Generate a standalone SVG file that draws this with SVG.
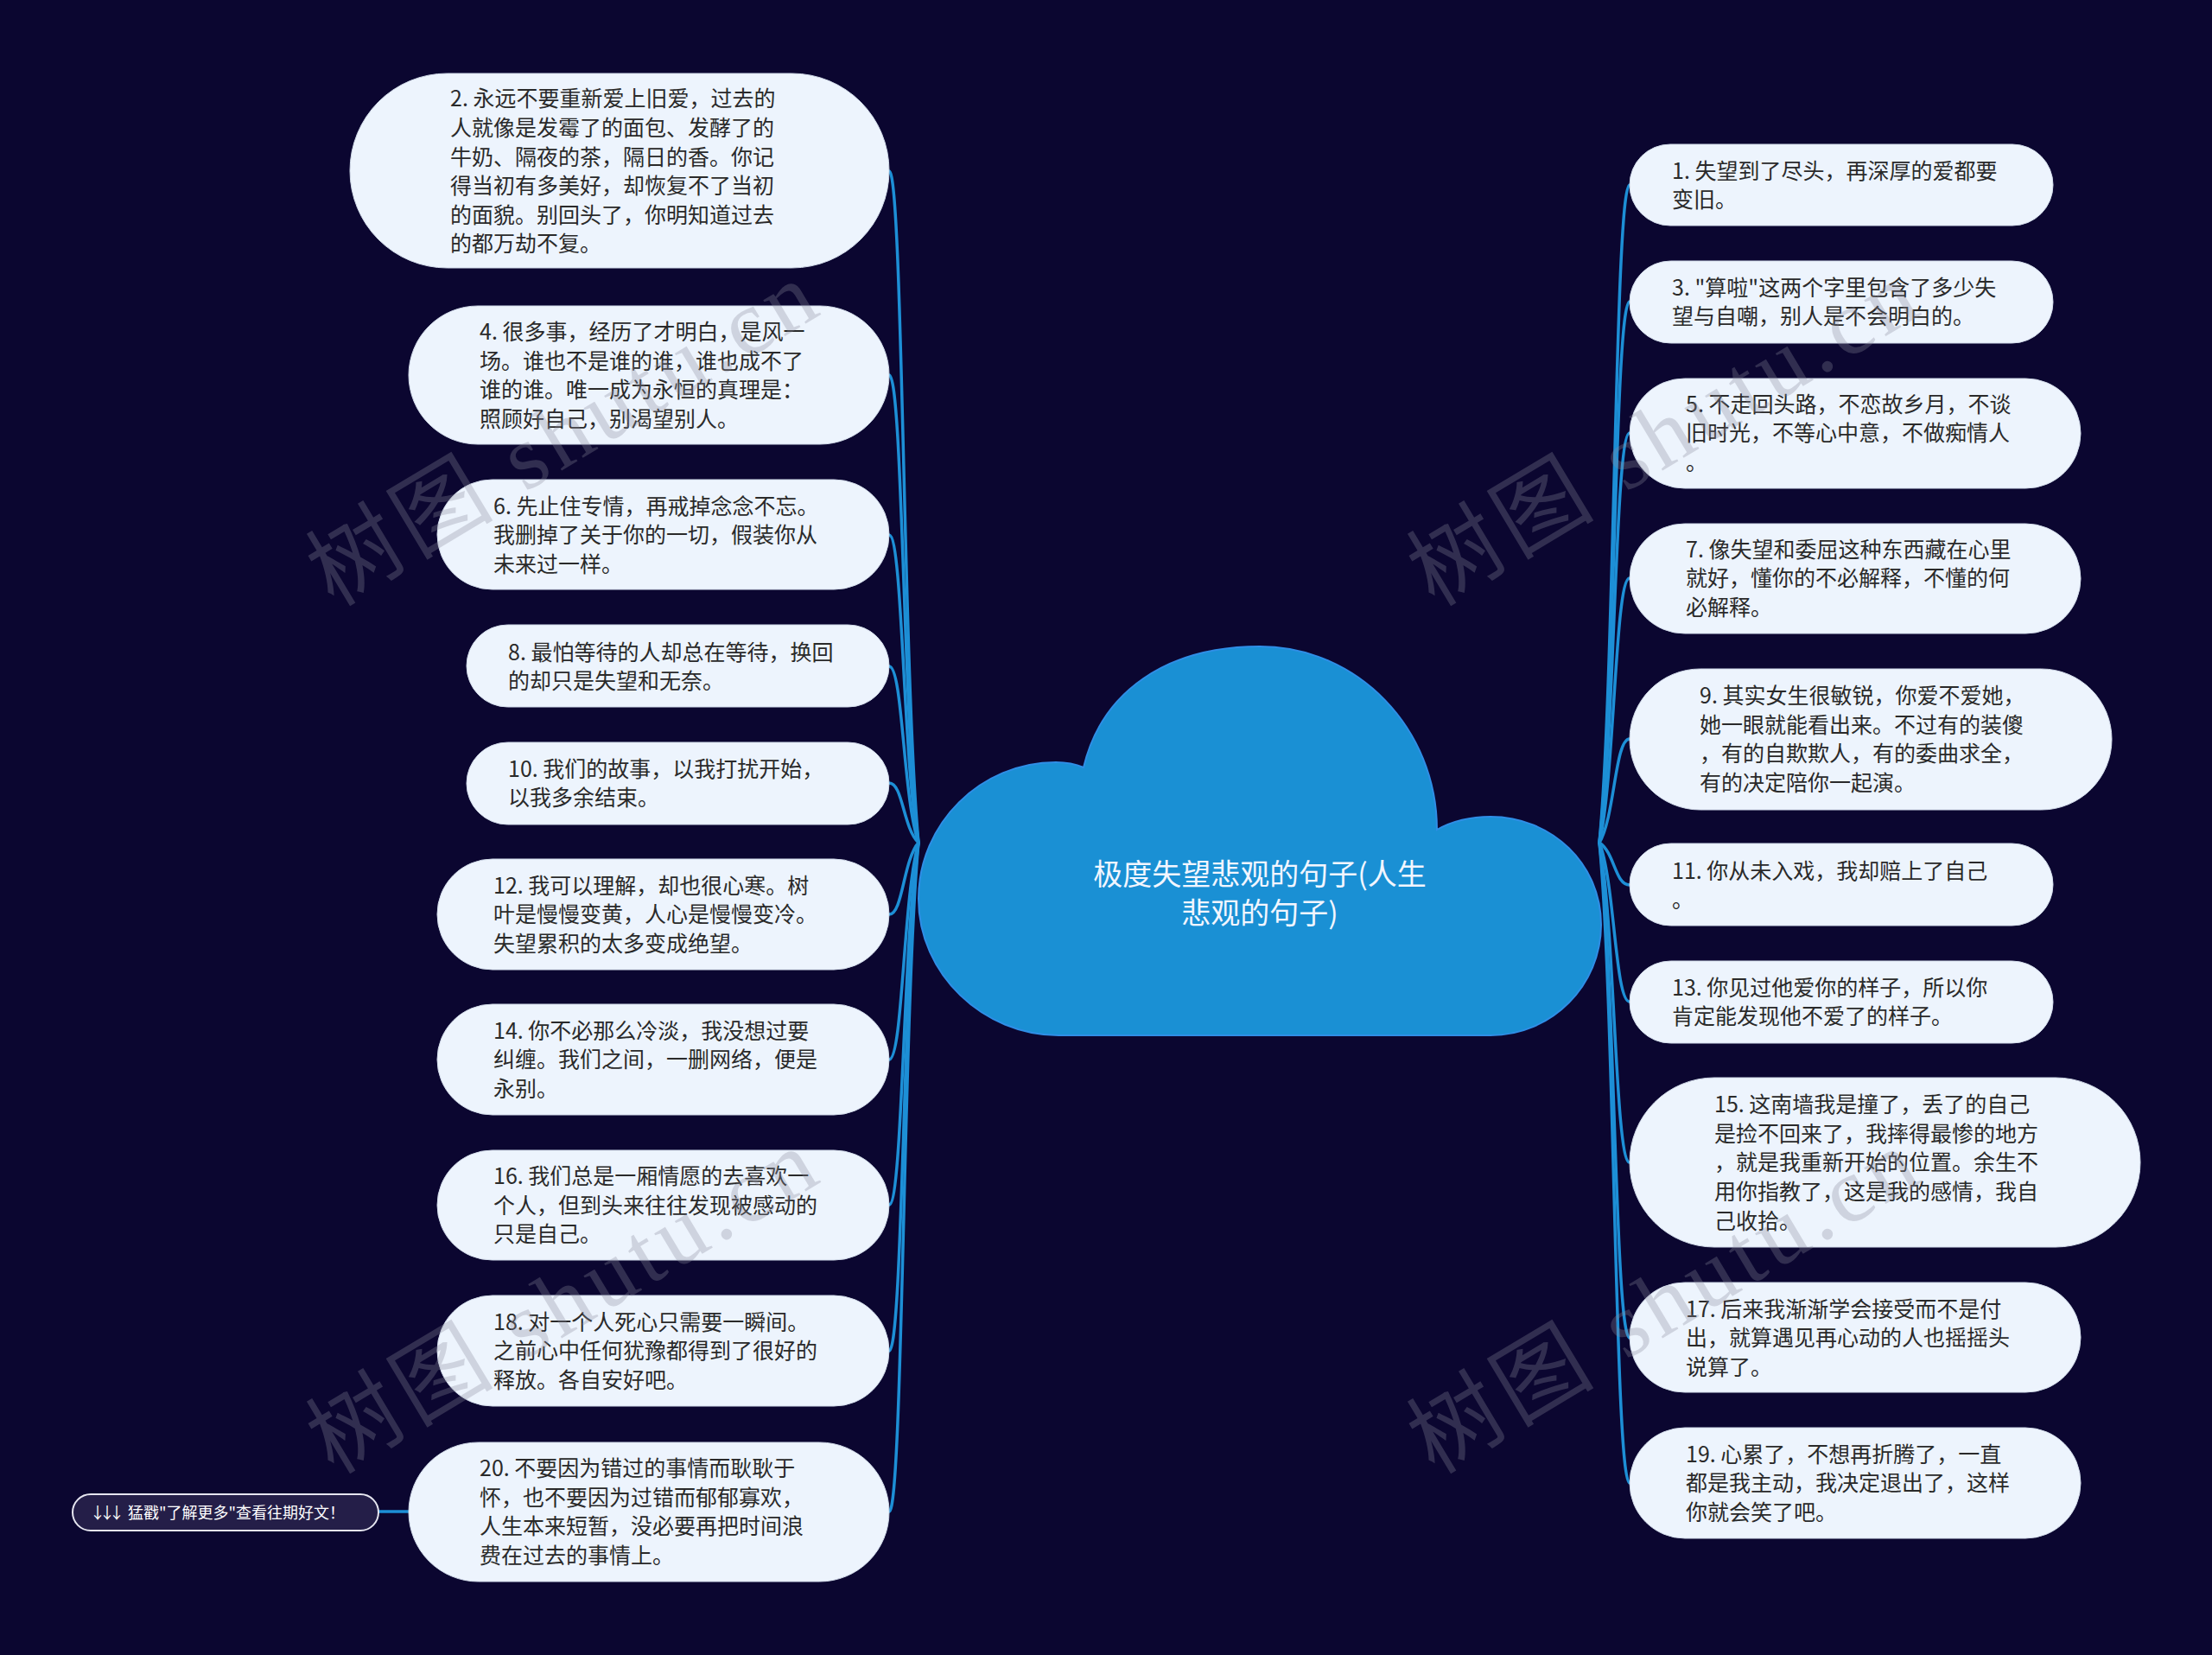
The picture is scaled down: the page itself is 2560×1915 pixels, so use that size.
<svg xmlns="http://www.w3.org/2000/svg" width="2560" height="1915" viewBox="0 0 2560 1915">
<style>
.bg{fill:#0b0630}
.node rect{fill:#edf4fd;stroke:#d3dcea;stroke-width:1}
.node text{font-family:"Noto Sans CJK SC","Noto Sans",sans-serif;font-size:25px;fill:#2a2a2a}
.conn path{fill:none;stroke:#1d8fd6;stroke-width:3.5;stroke-linecap:round}
.root path{fill:#1a90d4;stroke:#2f8ee6;stroke-width:2}
.root text{font-family:"Noto Sans CJK SC","Noto Sans",sans-serif;font-size:34px;fill:#f2f6ff;text-anchor:middle}
.more rect{fill:#241e48;stroke:#e6e6f0;stroke-width:2}
.more text{font-family:"Noto Sans CJK SC","Noto Sans",sans-serif;font-size:18px;fill:#ffffff}
.wm{font-family:"Liberation Serif","Noto Sans CJK SC",serif;font-size:106px;fill:#8a8a9c;opacity:0.3}
</style>
<rect class="bg" x="0" y="0" width="2560" height="1915"/>

<g id="connectors" class="conn">
<path d="M1063 975 C1045 781 1045 198 1029 198"/>
<path d="M1063 975 C1045 840 1045 434 1029 434"/>
<path d="M1063 975 C1045 886 1045 619 1029 619"/>
<path d="M1063 975 C1045 924 1045 771 1029 771"/>
<path d="M1063 975 C1045 958 1045 906 1029 906"/>
<path d="M1063 975 C1045 996 1045 1058 1029 1058"/>
<path d="M1063 975 C1045 1038 1045 1226 1029 1226"/>
<path d="M1063 975 C1045 1080 1045 1394 1029 1394"/>
<path d="M1063 975 C1045 1122 1045 1563 1029 1563"/>
<path d="M1063 975 C1045 1169 1045 1749 1029 1749"/>
<path d="M473 1749 L438 1749"/>
<path d="M1851 975 C1869 785 1869 214 1886 214"/>
<path d="M1851 975 C1869 819 1869 349 1886 349"/>
<path d="M1851 975 C1869 856 1869 501 1886 501"/>
<path d="M1851 975 C1869 898 1869 669 1886 669"/>
<path d="M1851 975 C1869 945 1869 855 1886 855"/>
<path d="M1851 975 C1869 987 1869 1024 1886 1024"/>
<path d="M1851 975 C1869 1021 1869 1159 1886 1159"/>
<path d="M1851 975 C1869 1068 1869 1345 1886 1345"/>
<path d="M1851 975 C1869 1118 1869 1548 1886 1548"/>
<path d="M1851 975 C1869 1160 1869 1716 1886 1716"/>
</g>

<g id="root" class="root">
<path d="M1225 1198 C1138 1198 1063 1127 1063 1040 C1063 953 1135 882 1222 882 Q1240 882 1254 888 C1275 800 1350 748 1458 748 C1571 748 1663 843 1663 960 Q1690 945 1725 945 C1796 945 1853 1000 1853 1070 C1853 1140 1796 1198 1725 1198 Z"/>
<text x="1458" y="1024">极度失望悲观的句子(人生</text>
<text x="1458" y="1069">悲观的句子)</text>
</g>

<g id="n2" class="node"><rect x="405" y="85" width="624" height="225" rx="112.5"/>
<text x="521" y="123">2. 永远不要重新爱上旧爱，过去的</text>
<text x="521" y="157">人就像是发霉了的面包、发酵了的</text>
<text x="521" y="191">牛奶、隔夜的茶，隔日的香。你记</text>
<text x="521" y="224">得当初有多美好，却恢复不了当初</text>
<text x="521" y="258">的面貌。别回头了，你明知道过去</text>
<text x="521" y="291">的都万劫不复。</text></g>

<g id="n4" class="node"><rect x="473" y="354" width="556" height="160" rx="80"/>
<text x="555" y="393">4. 很多事，经历了才明白，是风一</text>
<text x="555" y="427">场。谁也不是谁的谁，谁也成不了</text>
<text x="555" y="460">谁的谁。唯一成为永恒的真理是：</text>
<text x="555" y="494">照顾好自己，别渴望别人。</text></g>

<g id="n6" class="node"><rect x="506" y="555" width="523" height="127" rx="63.5"/>
<text x="571" y="595">6. 先止住专情，再戒掉念念不忘。</text>
<text x="571" y="628">我删掉了关于你的一切，假装你从</text>
<text x="571" y="662">未来过一样。</text></g>

<g id="n8" class="node"><rect x="540" y="723" width="489" height="95" rx="47.5"/>
<text x="588" y="764">8. 最怕等待的人却总在等待，换回</text>
<text x="588" y="797">的却只是失望和无奈。</text></g>

<g id="n10" class="node"><rect x="540" y="859" width="489" height="95" rx="47.5"/>
<text x="588" y="899">10. 我们的故事，以我打扰开始，</text>
<text x="588" y="932">以我多余结束。</text></g>

<g id="n12" class="node"><rect x="506" y="994" width="523" height="128" rx="64"/>
<text x="571" y="1034">12. 我可以理解，却也很心寒。树</text>
<text x="571" y="1067">叶是慢慢变黄，人心是慢慢变冷。</text>
<text x="571" y="1101">失望累积的太多变成绝望。</text></g>

<g id="n14" class="node"><rect x="506" y="1162" width="523" height="128" rx="64"/>
<text x="571" y="1202">14. 你不必那么冷淡，我没想过要</text>
<text x="571" y="1235">纠缠。我们之间，一删网络，便是</text>
<text x="571" y="1269">永别。</text></g>

<g id="n16" class="node"><rect x="506" y="1331" width="523" height="127" rx="63.5"/>
<text x="571" y="1370">16. 我们总是一厢情愿的去喜欢一</text>
<text x="571" y="1404">个人，但到头来往往发现被感动的</text>
<text x="571" y="1437">只是自己。</text></g>

<g id="n18" class="node"><rect x="506" y="1499" width="523" height="128" rx="64"/>
<text x="571" y="1539">18. 对一个人死心只需要一瞬间。</text>
<text x="571" y="1572">之前心中任何犹豫都得到了很好的</text>
<text x="571" y="1606">释放。各自安好吧。</text></g>

<g id="n20" class="node"><rect x="473" y="1669" width="556" height="161" rx="80.5"/>
<text x="555" y="1708">20. 不要因为错过的事情而耿耿于</text>
<text x="555" y="1742">怀，也不要因为过错而郁郁寡欢，</text>
<text x="555" y="1775">人生本来短暂，没必要再把时间浪</text>
<text x="555" y="1809">费在过去的事情上。</text></g>

<g id="more" class="more"><rect x="84" y="1729" width="354" height="42" rx="21"/>
<text x="104" y="1757"><tspan letter-spacing="-7">↓↓</tspan>↓ 猛戳"了解更多"查看往期好文！</text></g>

<g id="n1" class="node"><rect x="1886" y="167" width="490" height="94" rx="47"/>
<text x="1935" y="207">1. 失望到了尽头，再深厚的爱都要</text>
<text x="1935" y="240">变旧。</text></g>

<g id="n3" class="node"><rect x="1886" y="302" width="490" height="95" rx="47.5"/>
<text x="1935" y="342">3. "算啦"这两个字里包含了多少失</text>
<text x="1935" y="375">望与自嘲，别人是不会明白的。</text></g>

<g id="n5" class="node"><rect x="1886" y="438" width="522" height="127" rx="63.5"/>
<text x="1951" y="477">5. 不走回头路，不恋故乡月，不谈</text>
<text x="1951" y="510">旧时光，不等心中意，不做痴情人</text>
<text x="1951" y="544">。</text></g>

<g id="n7" class="node"><rect x="1886" y="606" width="522" height="127" rx="63.5"/>
<text x="1951" y="645">7. 像失望和委屈这种东西藏在心里</text>
<text x="1951" y="678">就好，懂你的不必解释，不懂的何</text>
<text x="1951" y="712">必解释。</text></g>

<g id="n9" class="node"><rect x="1886" y="774" width="558" height="163" rx="81.5"/>
<text x="1967" y="814">9. 其实女生很敏锐，你爱不爱她，</text>
<text x="1967" y="848">她一眼就能看出来。不过有的装傻</text>
<text x="1967" y="881">，有的自欺欺人，有的委曲求全，</text>
<text x="1967" y="915">有的决定陪你一起演。</text></g>

<g id="n11" class="node"><rect x="1886" y="976" width="490" height="95" rx="47.5"/>
<text x="1935" y="1017">11. 你从未入戏，我却赔上了自己</text>
<text x="1935" y="1050">。</text></g>

<g id="n13" class="node"><rect x="1886" y="1112" width="490" height="95" rx="47.5"/>
<text x="1935" y="1152">13. 你见过他爱你的样子，所以你</text>
<text x="1935" y="1185">肯定能发现他不爱了的样子。</text></g>

<g id="n15" class="node"><rect x="1886" y="1247" width="591" height="196" rx="98"/>
<text x="1984" y="1287">15. 这南墙我是撞了，丢了的自己</text>
<text x="1984" y="1321">是捡不回来了，我摔得最惨的地方</text>
<text x="1984" y="1354">，就是我重新开始的位置。余生不</text>
<text x="1984" y="1388">用你指教了，这是我的感情，我自</text>
<text x="1984" y="1422">己收拾。</text></g>

<g id="n17" class="node"><rect x="1886" y="1484" width="522" height="127" rx="63.5"/>
<text x="1951" y="1524">17. 后来我渐渐学会接受而不是付</text>
<text x="1951" y="1557">出，就算遇见再心动的人也摇摇头</text>
<text x="1951" y="1591">说算了。</text></g>

<g id="n19" class="node"><rect x="1886" y="1652" width="522" height="128" rx="64"/>
<text x="1951" y="1692">19. 心累了，不想再折腾了，一直</text>
<text x="1951" y="1725">都是我主动，我决定退出了，这样</text>
<text x="1951" y="1759">你就会笑了吧。</text></g>

<g id="watermarks">
<text class="wm" x="386" y="703" transform="rotate(-31 386 703)" textLength="660" lengthAdjust="spacing">树图 shutu.cn</text>
<text class="wm" x="1660" y="703" transform="rotate(-31 1660 703)" textLength="660" lengthAdjust="spacing">树图 shutu.cn</text>
<text class="wm" x="386" y="1707" transform="rotate(-31 386 1707)" textLength="660" lengthAdjust="spacing">树图 shutu.cn</text>
<text class="wm" x="1660" y="1707" transform="rotate(-31 1660 1707)" textLength="660" lengthAdjust="spacing">树图 shutu.cn</text>
</g>
</svg>
